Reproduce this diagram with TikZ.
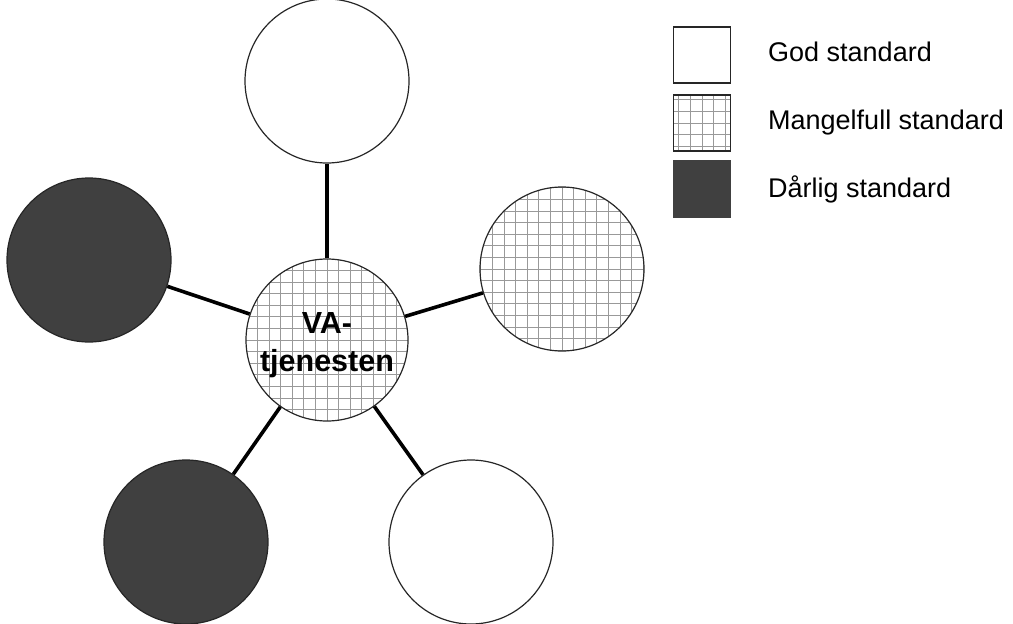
\documentclass[tikz,border=0pt]{standalone}
\usepackage{fontspec}
\setmainfont{Liberation Sans}
\begin{document}
\begin{tikzpicture}[x=1pt,y=-1pt,
  ring/.style={circle,draw=black!85,line width=1.2pt,minimum size=164pt,inner sep=0pt},
  good/.style={ring,fill=white},
  poor/.style={ring,fill=black!75},
  gridfill/.style={path picture={
      \draw[black!40,line width=0.9pt,step=11.6pt]
        (path picture bounding box.south west) grid (path picture bounding box.north east);}},
  weak/.style={ring,fill=white,gridfill},
  spoke/.style={line width=3.6pt,black},
  hubtext/.style={anchor=base,inner sep=0pt,font=\bfseries\fontsize{30.5}{37}\selectfont},
  keybox/.style={draw=black!85,line width=1.2pt,minimum width=57pt,minimum height=56pt,inner sep=0pt},
  keytext/.style={anchor=base west,font=\fontsize{27}{32}\selectfont,inner sep=0pt}]
  \useasboundingbox (0,0) rectangle (1013,624);

  % status circles around the central service
  \node[weak,minimum size=162pt] (hub) at (327,340) {};
  \node[good] (n) at (327,81) {};
  \node[weak] (ne) at (562,269) {};
  \node[poor] (w) at (89,260) {};
  \node[poor] (sw) at (186,542) {};
  \node[good] (se) at (471,542) {};
  \node[hubtext] (lbl1) at (327,333) {VA-};
  \node[hubtext] (lbl2) at (327,371) {tjenesten};

  % spokes
  \draw[spoke] (hub) -- (n);
  \draw[spoke] (hub) -- (ne);
  \draw[spoke] (hub) -- (w);
  \draw[spoke] (hub) -- (sw);
  \draw[spoke] (hub) -- (se);

  % legend
  \node[keybox,fill=white] (k1) at (702,55) {};
  \node[keybox,fill=white,gridfill] (k2) at (702,123) {};
  \node[keybox,fill=black!75,draw=black!75] (k3) at (702,189) {};
  \node[keytext] (t1) at (768,61) {God standard};
  \node[keytext] (t2) at (768,129) {Mangelfull standard};
  \node[keytext] (t3) at (768,197) {Dårlig standard};
\end{tikzpicture}
\end{document}
